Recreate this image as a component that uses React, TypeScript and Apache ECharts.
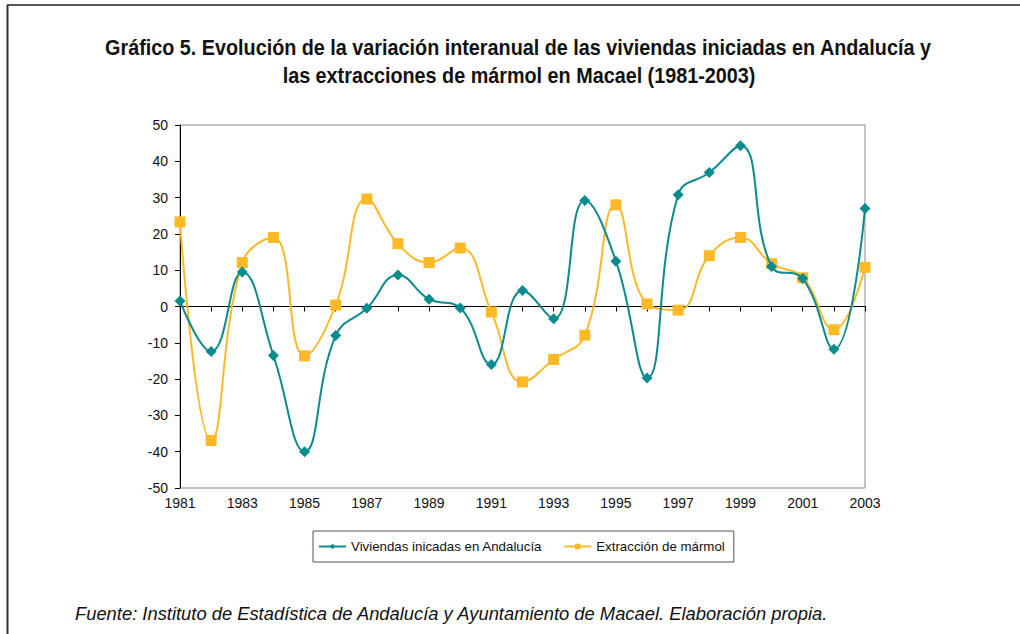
import React, { useEffect, useRef } from "react";
import * as echarts from "echarts";

const years = ["1981","1982","1983","1984","1985","1986","1987","1988","1989","1990","1991","1992","1993","1994","1995","1996","1997","1998","1999","2000","2001","2002","2003"];
const viviendas = [1.5, -12.4, 9.5, -13.5, -40, -8, -0.5, 8.7, 2.0, -0.4, -16.0, 4.4, -3.4, 29.2, 12.5, -19.7, 30.8, 36.9, 44.3, 11.0, 7.7, -11.8, 27.0];
const marmol = [23.3, -36.9, 12.1, 19.0, -13.6, 0.4, 29.6, 17.3, 12.1, 16.1, -1.5, -20.8, -14.6, -7.9, 28.0, 0.7, -1.0, 14.0, 19.0, 11.8, 7.9, -6.4, 10.8];
const seriesNames = ["Viviendas inicadas en Andalucía", "Extracción de mármol"];
const titleLines = [
  "Gráfico 5. Evolución de la variación interanual de las viviendas iniciadas en Andalucía y",
  "las extracciones de mármol en Macael (1981-2003)",
];
const sourceText = "Fuente: Instituto de Estadística de Andalucía y Ayuntamiento de Macael. Elaboración propia.";

const TEAL = "#0a8b8d";
const ORANGE = "#ffb927";
const FONT = "'Liberation Sans', Arial, sans-serif";

export default function App() {
  const ref = useRef<HTMLDivElement>(null);
  useEffect(() => {
    if (!ref.current) return;
    const chart = echarts.init(ref.current, null, { renderer: "svg" });
    chart.setOption({
      animation: false,
      backgroundColor: "#ffffff",
      textStyle: { fontFamily: FONT },
      graphic: [
        { type: "line", shape: { x1: 7, y1: 5, x2: 1020, y2: 5 }, style: { stroke: "#555", lineWidth: 2 } },
        { type: "line", shape: { x1: 7.5, y1: 5, x2: 7.5, y2: 634 }, style: { stroke: "#333", lineWidth: 2 } },
        { type: "text", x: 518, y: 47, scaleX: 0.9, style: { text: titleLines[0], font: `bold 22px ${FONT}`, fill: "#111", textAlign: "center", textVerticalAlign: "middle" } },
        { type: "text", x: 519, y: 75, scaleX: 0.9, style: { text: titleLines[1], font: `bold 22px ${FONT}`, fill: "#111", textAlign: "center", textVerticalAlign: "middle" } },
        { type: "text", x: 75, y: 614, scaleX: 1.02, style: { text: sourceText, font: `italic 18px ${FONT}`, fill: "#111", textAlign: "left", textVerticalAlign: "middle" } },
      ],
      grid: { left: 180, right: 155, top: 125, bottom: 146, show: true, borderColor: "#888", borderWidth: 1 },
      legend: {
        left: 313,
        top: 531,
        padding: [9, 9, 9, 5],
        borderColor: "#555",
        borderWidth: 1,
        itemGap: 21,
        itemWidth: 27,
        itemHeight: 7,
        textStyle: { fontSize: 13.3, color: "#111", fontFamily: FONT },
        data: seriesNames,
      },
      xAxis: {
        type: "category",
        data: years,
        boundaryGap: false,
        axisLine: { lineStyle: { color: "#000", width: 1 } },
        axisTick: { show: true, inside: false, length: 5, interval: 0, lineStyle: { color: "#000" } },
        axisLabel: { interval: 1, color: "#111", fontSize: 14, margin: 8, fontFamily: FONT },
        splitLine: { show: false },
      },
      yAxis: {
        type: "value",
        min: -50,
        max: 50,
        interval: 10,
        axisLine: { show: true, lineStyle: { color: "#000", width: 1 } },
        axisTick: { show: true, inside: false, length: 5, lineStyle: { color: "#000" } },
        axisLabel: { color: "#111", fontSize: 14, margin: 12, fontFamily: FONT },
        splitLine: { show: false },
      },
      series: [
        {
          name: seriesNames[0],
          type: "line",
          data: viviendas,
          smooth: 0.45,
          symbol: "diamond",
          symbolSize: 11,
          itemStyle: { color: TEAL },
          lineStyle: { color: TEAL, width: 2 },
          z: 3,
          markLine: {
            silent: true,
            symbol: "none",
            label: { show: false },
            lineStyle: { color: "#000", type: [3, 3], width: 1 },
            data: [{ yAxis: 0 }],
            z: 1,
          },
        },
        {
          name: seriesNames[1],
          type: "line",
          data: marmol,
          smooth: 0.45,
          symbol: "rect",
          symbolSize: 11,
          itemStyle: { color: ORANGE },
          lineStyle: { color: ORANGE, width: 2 },
          z: 2,
        },
      ],
    });
    return () => chart.dispose();
  }, []);
  return <div ref={ref} style={{ position: "fixed", left: 0, top: 0, width: 1020, height: 634 }} />;
}
